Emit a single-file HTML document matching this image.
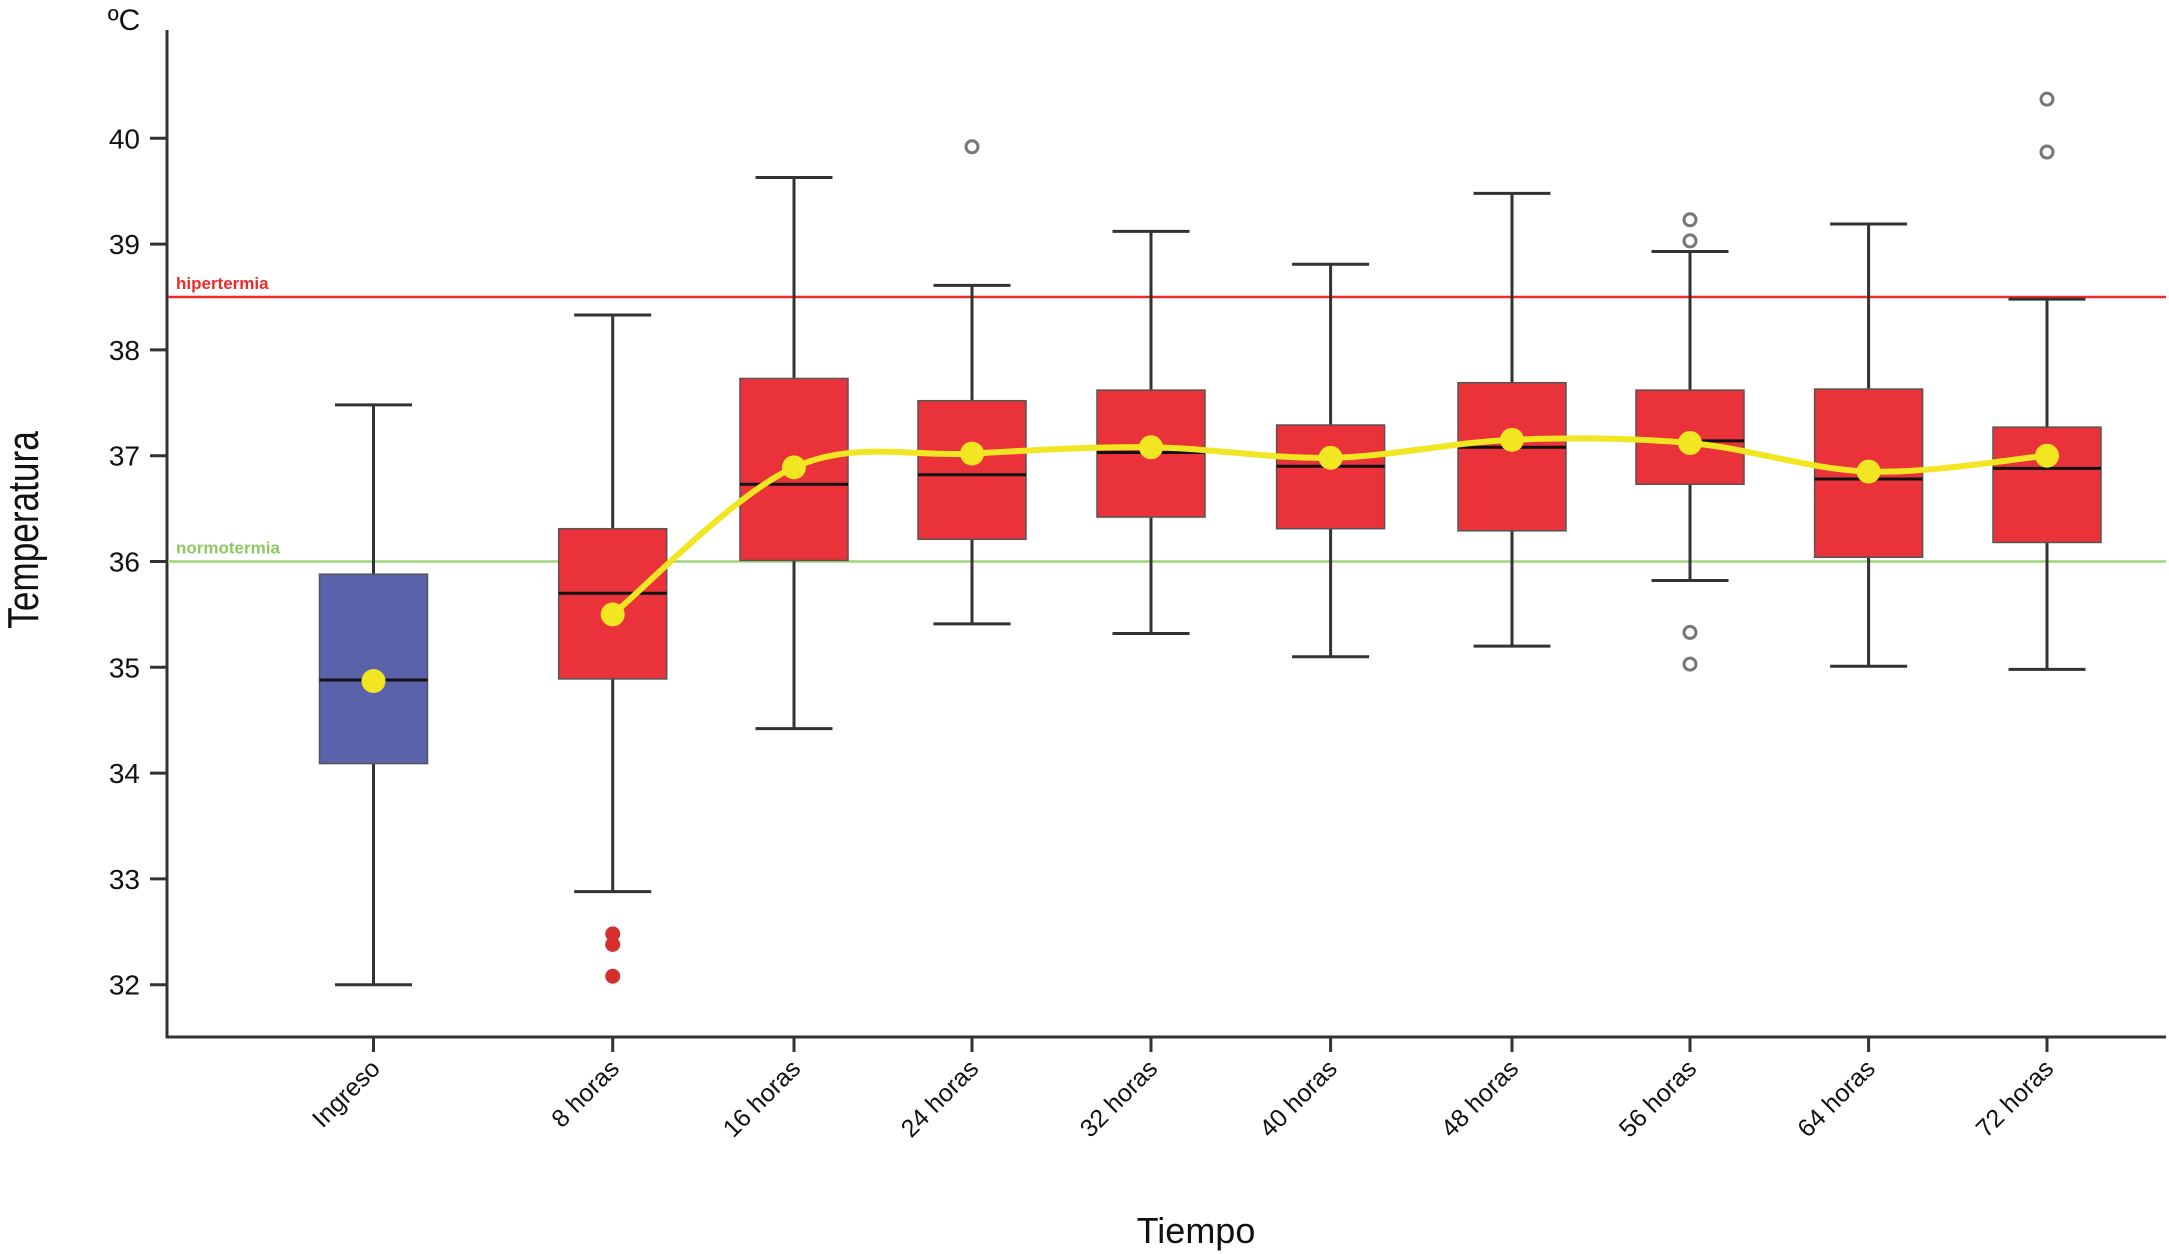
<!DOCTYPE html>
<html><head><meta charset="utf-8"><style>
html,body{margin:0;padding:0;background:#fff;}
svg{display:block;font-family:"Liberation Sans",sans-serif;}
</style></head><body>
<svg id="chart" width="2169" height="1254" viewBox="0 0 2169 1254" xmlns="http://www.w3.org/2000/svg">
<g id="axes"></g>
<g id="refs"></g>
<g id="boxes"></g>
<g id="meanline"></g>
</svg>
<script>
const categories=["Ingreso","8 horas","16 horas","24 horas","32 horas","40 horas","48 horas","56 horas","64 horas","72 horas"];
const whiskerLow=[32.0,32.88,34.42,35.41,35.32,35.10,35.20,35.82,35.01,34.98];
const q1=[34.09,34.89,36.01,36.21,36.42,36.31,36.29,36.73,36.04,36.18];
const medians=[34.88,35.70,36.73,36.82,37.03,36.90,37.08,37.14,36.78,36.88];
const q3=[35.88,36.31,37.73,37.52,37.62,37.29,37.69,37.62,37.63,37.27];
const whiskerHigh=[37.48,38.33,39.63,38.61,39.12,38.81,39.48,38.93,39.19,38.48];
const means=[34.87,35.50,36.89,37.02,37.08,36.98,37.15,37.12,36.85,37.00];
const outliers=[[],[32.48,32.38,32.08],[],[39.92],[],[],[],[39.23,39.03,35.33,35.03],[],[40.37,39.87]];
const yTicks=[32,33,34,35,36,37,38,39,40];
const hyperThreshold=38.5, normoThreshold=36.0;

const NS="http://www.w3.org/2000/svg";
const xPos=[373.5,612.7,794,972,1151,1330.6,1512,1690,1868.6,2047];
function y(v){return 984.7-(v-32)*105.8;}
function x(i){return xPos[i];}
function mk(parent,tag,attrs,text){const e=document.createElementNS(NS,tag);for(const k in attrs)e.setAttribute(k,attrs[k]);if(text!==undefined)e.textContent=text;document.getElementById(parent).appendChild(e);return e;}

let e;
e=mk('axes','line',{x1:167,y1:30,x2:167,y2:1038,stroke:'#333','stroke-width':3});


e=mk('axes','line',{x1:166,y1:1037,x2:2166,y2:1037,stroke:'#333','stroke-width':3});


yTicks.forEach(t=>{
  e=mk('axes','line',{x1:150,y1:y(t),x2:167,y2:y(t),stroke:'#333','stroke-width':3});
  
  
  e=mk('axes','text',{x:140,y:y(t)+10,'text-anchor':'end','font-size':28,fill:'#111'},String(t));
  
  
});
categories.forEach((c,i)=>{
  e=mk('axes','line',{x1:x(i),y1:1037,x2:x(i),y2:1052,stroke:'#333','stroke-width':3});
  
  
  e=mk('axes','text',{x:0,y:0,'text-anchor':'end','font-size':25,fill:'#111',transform:'translate('+(x(i)+8)+',1070) rotate(-45)'},c);
  
  
});
e=mk('axes','text',{x:0,y:0,'text-anchor':'middle','font-size':44,fill:'#111',transform:'translate(38,530) rotate(-90) scale(0.8,1)'},'Temperatura');


e=mk('axes','text',{x:1196,y:1243,'text-anchor':'middle','font-size':36,fill:'#111'},'Tiempo');


e=mk('axes','text',{x:124,y:30,'text-anchor':'middle','font-size':30,fill:'#111'},'ºC');



e=mk('refs','line',{x1:168,y1:y(hyperThreshold),x2:2166,y2:y(hyperThreshold),stroke:'#ee2a2a','stroke-width':2.5});


e=mk('refs','text',{x:176,y:y(hyperThreshold)-8,'font-size':17,'font-weight':'bold',fill:'#ee2a2a'},'hipertermia');


e=mk('refs','line',{x1:168,y1:y(normoThreshold),x2:2166,y2:y(normoThreshold),stroke:'#9fd67a','stroke-width':2.5});


e=mk('refs','text',{x:176,y:y(normoThreshold)-8,'font-size':17,'font-weight':'bold',fill:'#8cc865'},'normotermia');



const bw=108, cw=77;
categories.forEach((c,i)=>{
  const cx=x(i);
  e=mk('boxes','line',{x1:cx,y1:y(whiskerHigh[i]),x2:cx,y2:y(whiskerLow[i]),stroke:'#333','stroke-width':3});
  
  
  e=mk('boxes','line',{x1:cx-cw/2,y1:y(whiskerHigh[i]),x2:cx+cw/2,y2:y(whiskerHigh[i]),stroke:'#333','stroke-width':3});
  
  
  e=mk('boxes','line',{x1:cx-cw/2,y1:y(whiskerLow[i]),x2:cx+cw/2,y2:y(whiskerLow[i]),stroke:'#333','stroke-width':3});
  
  
  e=mk('boxes','rect',{x:cx-bw/2,y:y(q3[i]),width:bw,height:y(q1[i])-y(q3[i]),fill:i===0?'#5a62ab':'#ea323a',stroke:'#555','stroke-width':1.5});
  
  
  e=mk('boxes','line',{x1:cx-bw/2,y1:y(medians[i]),x2:cx+bw/2,y2:y(medians[i]),stroke:'#111','stroke-width':3});
  
  
  outliers[i].forEach(o=>{
    e=mk('boxes','circle',{cx:cx,cy:y(o),r:6,fill:i===1?'#e02a2a':'#fff',stroke:i===1?'#c33':'#777','stroke-width':3});
    
    
  });
});

const pts=[];for(let i=1;i<means.length;i++)pts.push([x(i),y(means[i])]);
let d='M'+pts[0][0]+','+pts[0][1];
for(let i=0;i<pts.length-1;i++){
  const p0=pts[Math.max(0,i-1)],p1=pts[i],p2=pts[i+1],p3=pts[Math.min(pts.length-1,i+2)];
  const c1=[p1[0]+(p2[0]-p0[0])/6,p1[1]+(p2[1]-p0[1])/6];
  const c2=[p2[0]-(p3[0]-p1[0])/6,p2[1]-(p3[1]-p1[1])/6];
  d+=' C'+c1[0]+','+c1[1]+' '+c2[0]+','+c2[1]+' '+p2[0]+','+p2[1];
}
e=mk('meanline','path',{d:d,fill:'none',stroke:'#f2e622','stroke-width':6});


means.forEach((m,i)=>{
  e=mk('meanline','circle',{cx:x(i),cy:y(m),r:12,fill:'#f2e622'});
  
  
});
</script>
</body></html>
